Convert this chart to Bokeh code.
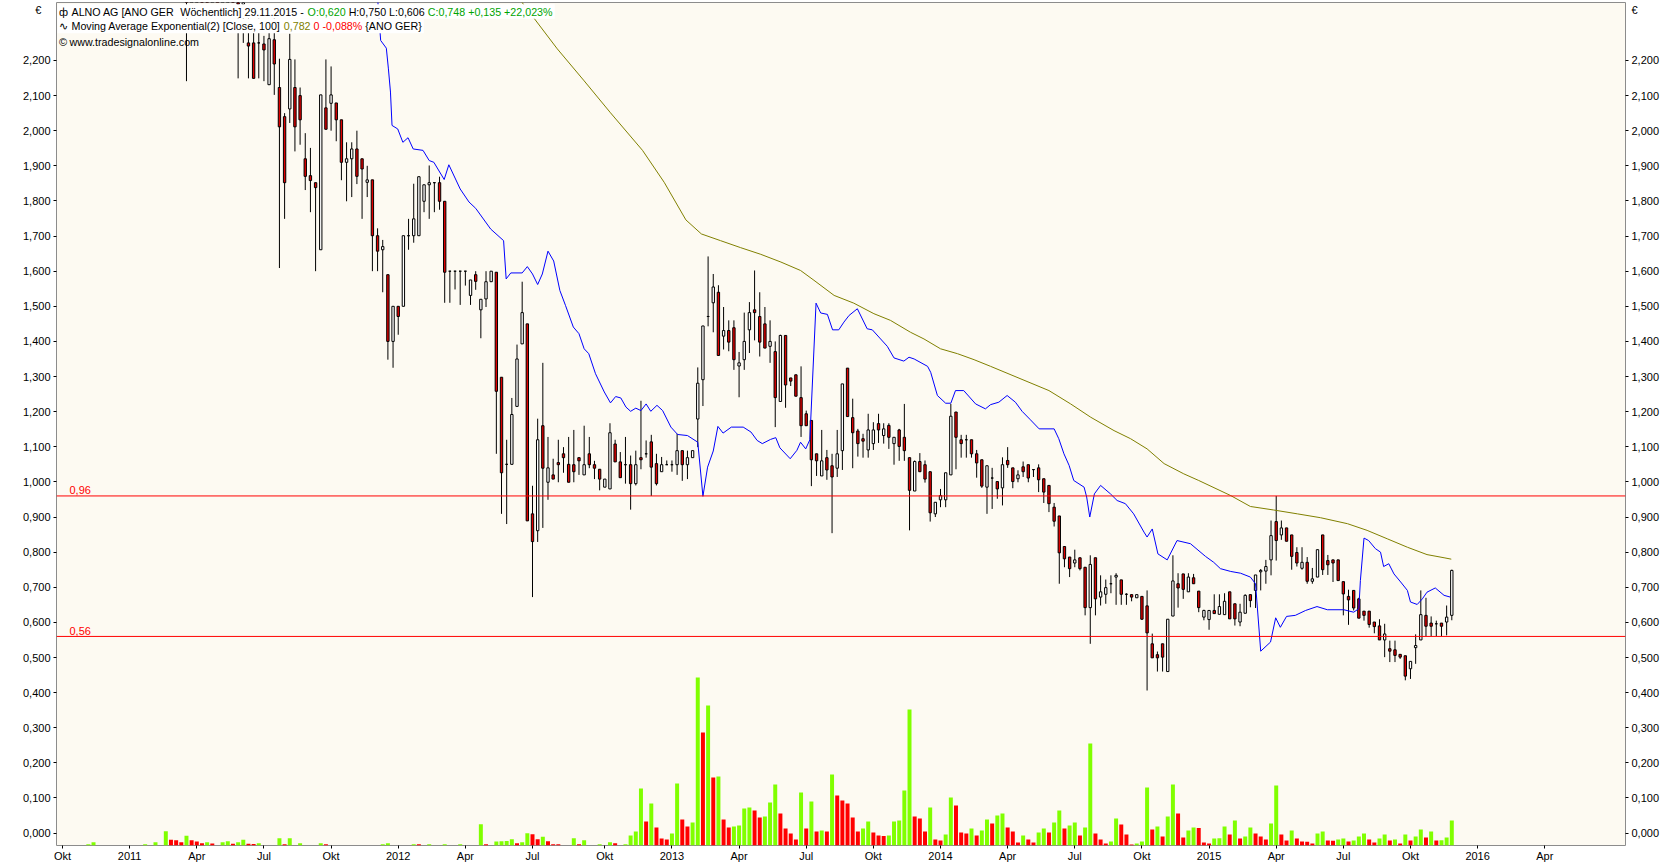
from datetime import date, timedelta
from bokeh.plotting import figure
from bokeh.models import (Range1d, LinearAxis, FixedTicker, CustomJSTickFormatter,
                          Span, Label, BoxAnnotation, ColumnDataSource)
from bokeh.embed import file_html
from bokeh.resources import INLINE

# ---------------------------------------------------------------- data
LAST_BAR = date(2015, 11, 29)      # date of the last weekly bar
LAST_WEEK = 236                    # week number of the last bar
FIRST_CANDLE_WEEK = -9
FIRST_VOLUME_WEEK = -28

OPEN = [
    2.40, 2.38, 2.42, 2.45, 2.43, 2.40, 2.42, 2.39, 2.43, 2.44,
    2.40, 2.36, 2.250, 2.250, 2.250, 2.247, 2.131, 2.259, 2.123, 2.040,
    2.062, 2.123, 2.100, 1.920, 1.872, 1.852, 1.661, 2.065, 2.078, 2.079,
    2.031, 1.910, 1.920, 1.948, 1.920, 1.853, 1.860, 1.701, 1.661, 1.590,
    1.400, 1.500, 1.500, 1.701, 1.701, 1.701, 1.799, 1.846, 1.852, 1.852,
    1.799, 1.600, 1.600, 1.600, 1.600, 1.531, 1.590, 1.490, 1.521, 1.570,
    1.597, 1.298, 1.050, 1.050, 1.215, 1.393, 1.450, 0.909, 0.861, 1.160,
    0.999, 1.020, 1.055, 1.080, 1.050, 1.049, 1.069, 1.020, 1.080, 1.049,
    1.036, 0.985, 0.980, 1.108, 1.057, 1.049, 1.049, 0.995, 1.069, 1.080,
    1.114, 1.052, 1.029, 1.049, 1.049, 1.049, 1.089, 1.049, 1.069, 1.179,
    1.291, 1.471, 1.510, 1.540, 1.415, 1.431, 1.439, 1.330, 1.348, 1.433,
    1.490, 1.471, 1.450, 1.386, 1.371, 1.229, 1.417, 1.296, 1.305, 1.240,
    1.194, 1.175, 1.080, 1.017, 1.069, 1.046, 1.039, 1.089, 1.324, 1.183,
    1.145, 1.123, 1.091, 1.109, 1.166, 1.132, 1.161, 1.109, 1.148, 1.127,
    1.069, 0.974, 1.058, 1.049, 1.029, 0.909, 0.949, 0.949, 1.020, 1.199,
    1.120, 1.120, 1.120, 1.080, 1.063, 0.985, 1.011, 1.001, 0.983, 1.061,
    1.040, 1.009, 1.043, 1.049, 1.035, 1.040, 1.009, 0.990, 0.928, 0.903,
    0.816, 0.786, 0.769, 0.784, 0.757, 0.642, 0.784, 0.672, 0.680, 0.710,
    0.729, 0.721, 0.680, 0.679, 0.670, 0.674, 0.647, 0.539, 0.508, 0.539,
    0.460, 0.618, 0.710, 0.738, 0.687, 0.727, 0.689, 0.615, 0.608, 0.634,
    0.623, 0.622, 0.687, 0.653, 0.601, 0.626, 0.679, 0.691, 0.744, 0.746,
    0.778, 0.887, 0.849, 0.869, 0.849, 0.799, 0.754, 0.771, 0.717, 0.729,
    0.849, 0.776, 0.778, 0.778, 0.716, 0.674, 0.691, 0.667, 0.632, 0.632,
    0.601, 0.590, 0.550, 0.525, 0.522, 0.509, 0.505, 0.468, 0.528, 0.550,
    0.620, 0.598, 0.596, 0.598, 0.601, 0.620,
]
HIGH = [
    2.44, 2.45, 2.48, 2.50, 2.47, 2.44, 2.46, 2.45, 2.48, 2.47,
    2.42, 2.40, 2.33, 2.30, 2.32, 2.27, 2.28, 2.33, 2.205, 2.05,
    2.276, 2.203, 2.123, 1.993, 1.951, 1.852, 2.102, 2.203, 2.183, 2.079,
    2.031, 1.967, 1.967, 2.000, 1.920, 1.900, 1.860, 1.722, 1.689, 1.590,
    1.500, 1.500, 1.701, 1.749, 1.849, 1.869, 1.846, 1.901, 1.852, 1.869,
    1.799, 1.600, 1.600, 1.600, 1.600, 1.575, 1.600, 1.520, 1.600, 1.600,
    1.597, 1.298, 1.120, 1.239, 1.391, 1.570, 1.450, 0.989, 1.180, 1.339,
    1.128, 1.066, 1.120, 1.099, 1.128, 1.148, 1.069, 1.160, 1.128, 1.060,
    1.036, 1.008, 1.167, 1.120, 1.085, 1.128, 1.075, 1.089, 1.231, 1.118,
    1.134, 1.080, 1.071, 1.061, 1.061, 1.137, 1.089, 1.089, 1.089, 1.326,
    1.444, 1.642, 1.592, 1.560, 1.498, 1.460, 1.460, 1.370, 1.482, 1.512,
    1.602, 1.540, 1.498, 1.460, 1.400, 1.419, 1.417, 1.296, 1.305, 1.329,
    1.203, 1.175, 1.080, 1.148, 1.091, 1.080, 1.148, 1.279, 1.324, 1.237,
    1.151, 1.137, 1.194, 1.170, 1.194, 1.167, 1.167, 1.127, 1.151, 1.222,
    1.069, 1.061, 1.082, 1.061, 1.029, 0.942, 0.980, 1.026, 1.222, 1.199,
    1.134, 1.134, 1.120, 1.091, 1.063, 1.046, 1.040, 1.001, 1.070, 1.099,
    1.040, 1.033, 1.058, 1.049, 1.035, 1.050, 1.009, 0.990, 0.940, 0.903,
    0.816, 0.786, 0.807, 0.784, 0.757, 0.791, 0.784, 0.734, 0.722, 0.734,
    0.740, 0.721, 0.683, 0.679, 0.679, 0.674, 0.691, 0.568, 0.517, 0.539,
    0.609, 0.791, 0.740, 0.738, 0.740, 0.738, 0.689, 0.636, 0.634, 0.680,
    0.680, 0.683, 0.687, 0.653, 0.653, 0.680, 0.679, 0.735, 0.752, 0.778,
    0.890, 0.960, 0.890, 0.869, 0.849, 0.814, 0.814, 0.786, 0.755, 0.807,
    0.849, 0.792, 0.778, 0.778, 0.716, 0.693, 0.691, 0.670, 0.632, 0.632,
    0.601, 0.609, 0.596, 0.548, 0.548, 0.509, 0.505, 0.489, 0.566, 0.691,
    0.670, 0.617, 0.605, 0.598, 0.648, 0.750,
]
LOW = [
    2.141, 2.37, 2.38, 2.40, 2.38, 2.37, 2.38, 2.37, 2.40, 2.38,
    2.149, 2.250, 2.149, 2.149, 2.149, 2.141, 2.131, 2.102, 1.609, 1.749,
    2.022, 1.941, 1.960, 1.831, 1.768, 1.600, 1.661, 2.004, 2.000, 1.970,
    1.859, 1.799, 1.811, 1.848, 1.749, 1.811, 1.600, 1.600, 1.540, 1.348,
    1.325, 1.419, 1.500, 1.661, 1.681, 1.701, 1.768, 1.749, 1.768, 1.775,
    1.510, 1.510, 1.548, 1.504, 1.559, 1.504, 1.547, 1.409, 1.498, 1.570,
    1.080, 0.909, 0.880, 1.050, 1.215, 1.393, 0.889, 0.672, 0.829, 0.869,
    0.949, 1.008, 0.999, 1.026, 0.999, 0.999, 1.020, 1.020, 1.039, 1.008,
    0.976, 0.985, 0.980, 1.057, 1.012, 0.995, 0.921, 0.990, 1.036, 1.069,
    0.960, 0.990, 1.029, 1.049, 1.029, 1.020, 1.003, 1.008, 1.069, 1.099,
    1.216, 1.443, 1.426, 1.360, 1.377, 1.372, 1.319, 1.241, 1.319, 1.367,
    1.403, 1.357, 1.381, 1.339, 1.156, 1.229, 1.211, 1.273, 1.244, 1.128,
    1.160, 0.988, 1.017, 1.017, 1.006, 0.854, 1.014, 1.034, 1.186, 1.039,
    1.072, 1.069, 1.069, 1.091, 1.111, 1.109, 1.094, 1.049, 1.060, 1.060,
    0.862, 0.974, 1.029, 0.998, 0.887, 0.900, 0.928, 0.928, 1.020, 1.036,
    1.069, 1.069, 1.069, 1.012, 0.983, 0.909, 0.923, 0.952, 0.933, 1.040,
    0.982, 0.999, 1.014, 0.999, 1.014, 0.971, 0.940, 0.914, 0.873, 0.710,
    0.757, 0.729, 0.757, 0.748, 0.620, 0.539, 0.620, 0.648, 0.653, 0.683,
    0.650, 0.650, 0.650, 0.660, 0.670, 0.607, 0.406, 0.499, 0.460, 0.460,
    0.460, 0.618, 0.642, 0.667, 0.687, 0.710, 0.629, 0.606, 0.579, 0.625,
    0.623, 0.622, 0.610, 0.591, 0.589, 0.626, 0.643, 0.641, 0.691, 0.710,
    0.734, 0.776, 0.835, 0.831, 0.750, 0.759, 0.750, 0.710, 0.710, 0.729,
    0.735, 0.735, 0.715, 0.719, 0.620, 0.593, 0.634, 0.612, 0.605, 0.585,
    0.569, 0.550, 0.501, 0.487, 0.487, 0.496, 0.435, 0.439, 0.482, 0.550,
    0.561, 0.561, 0.561, 0.561, 0.563, 0.606,
]
CLOSE = [
    2.38, 2.42, 2.45, 2.43, 2.40, 2.42, 2.39, 2.43, 2.44, 2.40,
    2.36, 2.37, 2.241, 2.149, 2.250, 2.230, 2.262, 2.190, 2.011, 1.852,
    2.203, 2.011, 2.031, 1.870, 1.858, 1.838, 2.102, 2.004, 2.102, 2.031,
    1.910, 1.920, 1.948, 1.870, 1.891, 1.860, 1.701, 1.657, 1.670, 1.400,
    1.500, 1.471, 1.701, 1.701, 1.749, 1.869, 1.846, 1.852, 1.852, 1.799,
    1.597, 1.600, 1.600, 1.600, 1.600, 1.575, 1.571, 1.520, 1.570, 1.600,
    1.258, 1.026, 1.050, 1.192, 1.350, 1.482, 0.889, 0.830, 1.120, 1.039,
    1.040, 1.008, 1.049, 1.069, 0.999, 1.029, 1.060, 1.049, 1.049, 1.039,
    1.008, 1.008, 1.140, 1.057, 1.012, 1.049, 0.995, 1.049, 1.063, 1.080,
    1.042, 0.995, 1.049, 1.049, 1.049, 1.089, 1.049, 1.069, 1.089, 1.281,
    1.444, 1.471, 1.555, 1.360, 1.431, 1.398, 1.348, 1.339, 1.400, 1.482,
    1.482, 1.398, 1.381, 1.400, 1.240, 1.417, 1.276, 1.287, 1.244, 1.160,
    1.160, 1.063, 1.060, 1.060, 1.034, 1.014, 1.080, 1.279, 1.186, 1.140,
    1.109, 1.116, 1.148, 1.148, 1.148, 1.151, 1.127, 1.127, 1.101, 1.089,
    0.976, 1.058, 1.029, 1.008, 0.912, 0.942, 0.961, 1.026, 1.187, 1.127,
    1.109, 1.120, 1.080, 1.054, 0.988, 1.046, 1.011, 0.980, 1.049, 1.049,
    1.001, 1.020, 1.029, 1.011, 1.035, 1.006, 0.971, 0.938, 0.888, 0.798,
    0.781, 0.753, 0.778, 0.753, 0.642, 0.765, 0.667, 0.687, 0.699, 0.710,
    0.734, 0.680, 0.680, 0.672, 0.679, 0.609, 0.570, 0.499, 0.499, 0.501,
    0.609, 0.718, 0.698, 0.694, 0.729, 0.710, 0.642, 0.634, 0.634, 0.625,
    0.645, 0.660, 0.610, 0.610, 0.629, 0.677, 0.662, 0.735, 0.748, 0.759,
    0.847, 0.833, 0.869, 0.831, 0.788, 0.769, 0.771, 0.717, 0.724, 0.807,
    0.750, 0.764, 0.769, 0.719, 0.681, 0.664, 0.641, 0.612, 0.620, 0.594,
    0.588, 0.550, 0.567, 0.518, 0.506, 0.501, 0.447, 0.489, 0.534, 0.622,
    0.589, 0.589, 0.596, 0.589, 0.615, 0.748,
]
# weekly volume (thousand shares)
VOLUME = [
    1.3, 3.3, 0, 0, 0, 0, 0, 0, 0, 0,
    0, 1.3, 0, 3.3, 0, 14.3, 5.7, 5.3, 3.3, 9.7,
    5.3, 4, 2.3, 3.3, 2, 0, 3.3, 4.3, 1.7, 3.3,
    5.7, 1.7, 1.6, 2.3, 0, 0, 0, 7.3, 1.3, 7.3,
    0, 2.3, 0, 0, 0, 2.3, 1.3, 0, 0, 0,
    0, 0, 0, 0, 0, 0, 0, 1.3, 2.3, 0,
    0, 0, 0, 1.3, 1.2, 0, 1.3, 0, 0, 1.3,
    0, 0, 1.3, 0, 0, 0, 21.3, 1.3, 0, 4.0,
    4.3, 4.6, 6.3, 2.3, 3.3, 12.3, 11.3, 6.3, 8.7, 4.3,
    1.3, 1.2, 0, 0, 7.3, 1.3, 5.3, 0, 0, 1.3,
    0, 3.3, 2.3, 0, 1.3, 10, 14, 57, 24, 42,
    18, 7, 6, 12, 62, 26, 19, 23, 168, 113,
    140, 68, 69, 26, 18, 19, 20, 37, 38, 35,
    28, 29, 43, 61, 32, 17, 12, 6, 53, 17,
    44, 14, 15, 14, 71, 50, 45, 42, 28, 14,
    17, 24, 13, 10, 9.5, 10, 24, 25, 55, 136,
    29, 27, 14, 38, 6, 5, 11, 48, 40, 13,
    12, 17, 10, 15, 26, 22, 30, 32, 18, 14,
    3, 10, 6, 3, 13, 17, 13, 23, 35, 17,
    20, 23, 10, 18, 102, 12, 6, 2, 4, 27,
    21, 11, 1, 2, 4, 58, 16, 19, 9, 29,
    61, 32, 8, 15, 18, 17.5, 3, 2, 7, 7.3,
    19, 11, 25, 7, 9, 18, 12, 9, 6, 22,
    60, 11, 5, 15, 7, 4, 3.8, 2, 12, 14,
    5, 4.8, 6, 7, 4, 5, 9, 12, 6, 3,
    7, 11, 5, 6, 2, 11, 5, 9, 16, 8,
    14, 5, 5.3, 8, 25,
]
# blue indicator line (week number, value)
SIGNAL_WEEK = [
    27.9, 28.6, 29.7, 30.1, 30.5, 30.8, 31.9, 32.9, 33.9, 34.9,
    36.8, 38.0, 38.9, 40.9, 41.8, 44.0, 45.7, 47.0, 49.9, 52.4,
    52.9, 53.8, 56.0, 57.0, 58.0, 59.0, 59.9, 61.0, 62.1, 63.3,
    64.4, 65.9, 67.0, 68.0, 68.9, 70.2, 71.9, 73.1, 74.1, 75.1,
    76.1, 77.0, 78.0, 79.0, 80.0, 80.9, 82.1, 83.2, 84.8, 86.1,
    88.0, 90.0, 91.0, 91.9, 93.0, 93.9, 94.9, 96.5, 98.8, 100.3,
    101.5, 102.5, 104.1, 105.1, 105.9, 107.9, 109.2, 109.9, 110.9, 111.7,
    112.9, 113.8, 115.1, 116.1, 117.3, 118.3, 119.3, 120.9, 122.8, 123.8,
    125.4, 126.7, 128.0, 129.9, 130.9, 131.9, 134.5, 135.1, 136.4, 138.0,
    139.0, 139.9, 141.5, 143.8, 145.7, 146.7, 148.3, 149.9, 151.5, 152.8,
    154.4, 156.1, 159.0, 159.9, 160.9, 161.9, 162.8, 164.8, 165.3, 165.9,
    166.8, 168.0, 169.9, 171.2, 172.8, 174.4, 176.4, 177.0, 178.0, 179.1,
    180.9, 182.8, 185.4, 188.3, 189.9, 191.2, 193.2, 195.1, 197.0, 198.0,
    199.0, 200.9, 201.9, 202.8, 204.0, 205.7, 207.7, 209.9, 211.9, 215.1,
    217.0, 218.0, 218.3, 219.0, 219.9, 221.2, 222.2, 222.8, 223.8, 224.8,
    226.1, 227.4, 228.0, 229.3, 230.3, 231.2, 232.8, 234.5, 235.7,
]
SIGNAL_VALUE = [
    2.40, 2.257, 2.235, 2.176, 2.110, 2.015, 2.005, 1.967, 1.980, 1.948,
    1.944, 1.915, 1.910, 1.861, 1.903, 1.834, 1.797, 1.779, 1.72, 1.687,
    1.578, 1.595, 1.595, 1.613, 1.592, 1.562, 1.592, 1.657, 1.629, 1.545,
    1.502, 1.441, 1.422, 1.379, 1.365, 1.308, 1.256, 1.225, 1.243, 1.239,
    1.213, 1.201, 1.210, 1.203, 1.222, 1.201, 1.218, 1.203, 1.156, 1.135,
    1.132, 1.113, 0.959, 1.042, 1.088, 1.158, 1.139, 1.156, 1.156, 1.142,
    1.118, 1.109, 1.121, 1.126, 1.097, 1.066, 1.090, 1.113, 1.094, 1.120,
    1.509, 1.481, 1.477, 1.433, 1.433, 1.455, 1.474, 1.493, 1.436, 1.433,
    1.407, 1.386, 1.353, 1.344, 1.355, 1.350, 1.329, 1.312, 1.246, 1.224,
    1.224, 1.260, 1.260, 1.222, 1.208, 1.220, 1.227, 1.246, 1.227, 1.201,
    1.177, 1.151, 1.151, 1.123, 1.080, 1.047, 1.004, 0.985, 0.957, 0.900,
    0.966, 0.990, 0.966, 0.947, 0.938, 0.909, 0.857, 0.843, 0.866, 0.795,
    0.778, 0.833, 0.824, 0.788, 0.771, 0.753, 0.745, 0.740, 0.729, 0.710,
    0.518, 0.544, 0.613, 0.586, 0.617, 0.620, 0.634, 0.645, 0.636, 0.636,
    0.629, 0.639, 0.719, 0.840, 0.833, 0.810, 0.800, 0.759, 0.767, 0.738,
    0.715, 0.691, 0.658, 0.651, 0.667, 0.686, 0.698, 0.677, 0.672,
]
# olive line: Moving Average Exponential(2) [Close, 100]
EMA_WEEK = [
    54.7, 56.5, 62.8, 68.0, 73.1, 79.3, 83.5, 87.7, 90.7, 94.4,
    98.3, 102.2, 106.1, 109.9, 112.5, 116.4, 120.2, 124.1, 127.3, 131.2,
    133.8, 137.0, 140.3, 143.5, 146.7, 158.0, 162.2, 166.1, 170.6, 173.8,
    177.0, 180.3, 184.1, 187.0, 193.2, 197.0, 201.5, 206.1, 210.6, 215.8,
    219.6, 223.5, 227.4, 231.2, 234.5, 235.9,
]
EMA_VALUE = [
    2.39, 2.355, 2.233, 2.142, 2.051, 1.944, 1.853, 1.746, 1.706, 1.687,
    1.667, 1.648, 1.626, 1.602, 1.574, 1.531, 1.509, 1.479, 1.460, 1.426,
    1.407, 1.379, 1.365, 1.348, 1.329, 1.260, 1.222, 1.184, 1.146, 1.123,
    1.094, 1.052, 1.023, 1.004, 0.961, 0.930, 0.920, 0.909, 0.898, 0.881,
    0.862, 0.838, 0.814, 0.793, 0.784, 0.780,
]
LEVELS = [0.96, 0.56]
LEVEL_LABELS = ["0,96", "0,56"]
Y_TICKS = [round(0.1 * i, 1) for i in range(23)]
CURRENCY = "€"
TICK_MONTHS = [(2010, 10), (2011, 1), (2011, 4), (2011, 7), (2011, 10), (2012, 1),
               (2012, 4), (2012, 7), (2012, 10), (2013, 1), (2013, 4), (2013, 7),
               (2013, 10), (2014, 1), (2014, 4), (2014, 7), (2014, 10), (2015, 1),
               (2015, 4), (2015, 7), (2015, 10), (2016, 1), (2016, 4)]
TICK_LABELS = ["Okt", "2011", "Apr", "Jul", "Okt", "2012", "Apr", "Jul", "Okt", "2013",
               "Apr", "Jul", "Okt", "2014", "Apr", "Jul", "Okt", "2015", "Apr", "Jul",
               "Okt", "2016", "Apr"]
HEADER_1 = [("ALNO AG [ANO GER", "k"), ("  Wöchentlich] 29.11.2015 - ", "k"),
            ("O:0,620", "g"), (" H:0,750 L:0,606 ", "k"), ("C:0,748 +0,135 +22,023%", "g")]
HEADER_2 = [("Moving Average Exponential(2) [Close, 100] ", "k"), ("0,782", "o"),
            (" 0 -0,088%", "r"), (" {ANO GER}", "k")]
HEADER_3 = [("www.tradesignalonline.com", "k")]

# ---------------------------------------------------------------- layout
FRAME_W, FRAME_H = 1569, 843
BORDER_L, BORDER_R, BORDER_T = 56, 45, 2
PAGE_X0, PAGE_Y0 = BORDER_L, BORDER_T
PX_PER_DAY = 0.7378
PX_PER_EUR = 351.2
X_START = (PAGE_X0 - 1451.3) / PX_PER_DAY
X_END = X_START + FRAME_W / PX_PER_DAY
Y_TOP = (832.6 - PAGE_Y0) / PX_PER_EUR
Y_BOTTOM = Y_TOP - FRAME_H / PX_PER_EUR
FONT = "Liberation Sans"
HFS = 10.7
COLORS = {"k": "#000000", "g": "#00A400", "o": "#808000", "r": "#FF0000"}


def week_day(w):
    return -7.0 * (LAST_WEEK - w)


def xd(px):
    return X_START + (px - PAGE_X0) / PX_PER_DAY


def yd(py):
    return Y_TOP - (py - PAGE_Y0) / PX_PER_EUR


ARIAL = {' ': 278, '%': 889, '(': 333, ')': 333, '+': 584, ',': 278, '-': 333, '.': 278,
         ':': 278, '[': 278, ']': 278, '{': 334, '}': 334, 'A': 667, 'C': 722, 'E': 667,
         'G': 778, 'H': 722, 'L': 556, 'M': 833, 'N': 722, 'O': 778, 'R': 722, 'W': 944,
         'a': 556, 'c': 500, 'd': 556, 'e': 556, 'g': 556, 'h': 556, 'i': 222, 'l': 222,
         'm': 833, 'n': 556, 'o': 556, 'p': 556, 'r': 333, 's': 500, 't': 278, 'u': 556,
         'v': 500, 'w': 722, 'x': 500, 'ö': 556}


def text_px(s, size):
    return sum(ARIAL.get(ch, 556) for ch in s) * size / 1000.0


# ---------------------------------------------------------------- figure
p = figure(frame_width=FRAME_W, frame_height=FRAME_H,
           x_range=Range1d(X_START, X_END), y_range=Range1d(Y_BOTTOM, Y_TOP),
           output_backend="svg", toolbar_location=None, tools="",
           min_border_left=BORDER_L, min_border_right=BORDER_R,
           min_border_top=BORDER_T, min_border_bottom=0,
           background_fill_color="#FDFAF2", border_fill_color="#FFFFFF",
           outline_line_color="#8C8C8C", outline_line_width=1)
p.xgrid.visible = False
p.ygrid.visible = False
p.extra_y_ranges = {"vol": Range1d(0, FRAME_H)}

# price scale: major ticks carry the labels (plus the currency mark at the top),
# the short tick dashes are drawn as minor ticks so the currency mark has none
CUR_POS = round(yd(10), 4)


def price_formatter(pad):
    return CustomJSTickFormatter(
        args=dict(cur_pos=CUR_POS, cur=CURRENCY + "\u00a0" * pad),
        code="return Math.abs(tick - cur_pos) < 1e-6 ? cur : "
             "tick.toFixed(3).replace('.', ',');")


def style_axis(ax):
    ax.axis_line_color = None
    ax.major_tick_line_color = "#000000"
    ax.major_tick_out = 3
    ax.major_tick_in = 0
    ax.minor_tick_out = 0
    ax.minor_tick_in = 0
    ax.major_label_text_font = FONT
    ax.major_label_text_font_size = "11px"
    ax.major_label_text_color = "#000000"
    ax.major_label_standoff = 3


def style_price_axis(ax, pad):
    style_axis(ax)
    ax.ticker = FixedTicker(ticks=Y_TICKS + [CUR_POS], minor_ticks=Y_TICKS)
    ax.formatter = price_formatter(pad)
    ax.major_tick_line_color = None
    ax.minor_tick_line_color = "#000000"
    ax.minor_tick_out = 3
    ax.minor_tick_in = 0


for ax in p.yaxis:
    style_price_axis(ax, 3)
right_axis = LinearAxis()
style_price_axis(right_axis, 0)
p.add_layout(right_axis, "right")

tick_days = []
for (yy, mm) in TICK_MONTHS:
    d = date(yy, mm, 1)
    d = d + timedelta(days=(6 - d.weekday()) % 7)
    tick_days.append((d - LAST_BAR).days)
xax = p.xaxis[0]
xax.ticker = FixedTicker(ticks=tick_days)
xax.formatter = CustomJSTickFormatter(
    args=dict(tick_pos=tick_days, tick_txt=TICK_LABELS),
    code="const i = tick_pos.indexOf(tick); return i >= 0 ? tick_txt[i] : '';")
style_axis(xax)
xax.major_label_text_align = "left"
xax.major_label_standoff = 1

# ---------------------------------------------------------------- volume
vweeks = list(range(FIRST_VOLUME_WEEK, FIRST_VOLUME_WEEK + len(VOLUME)))
vcol = []
prev = 0
for v in VOLUME:
    vcol.append("#80FF00" if v > prev else "#FF0000")
    prev = v
vsrc = ColumnDataSource(dict(x=[week_day(w) for w in vweeks], top=VOLUME, color=vcol))
p.vbar(x="x", top="top", bottom=0, width=5.4, source=vsrc, fill_color="color",
       line_color=None, y_range_name="vol")

# ---------------------------------------------------------------- candles
cweeks = list(range(FIRST_CANDLE_WEEK, FIRST_CANDLE_WEEK + len(OPEN)))
csrc = ColumnDataSource(dict(
    x=[week_day(w) for w in cweeks],
    high=HIGH, low=LOW,
    top=[max(o, c) for o, c in zip(OPEN, CLOSE)],
    bottom=[min(o, c) for o, c in zip(OPEN, CLOSE)],
    fill=["#E00000" if c < o else "#FFFFFF" for o, c in zip(OPEN, CLOSE)],
))
p.segment(x0="x", y0="low", x1="x", y1="high", source=csrc, line_color="#000000",
          line_width=1)
p.vbar(x="x", top="top", bottom="bottom", width=3.2, source=csrc, fill_color="fill",
       line_color="#000000", line_width=1)

# ---------------------------------------------------------------- indicator lines
p.line([week_day(w) for w in SIGNAL_WEEK], SIGNAL_VALUE, line_color="#0000FF", line_width=1)
p.line([week_day(w) for w in EMA_WEEK], EMA_VALUE, line_color="#808000", line_width=1)

for lev, lab in zip(LEVELS, LEVEL_LABELS):
    p.add_layout(Span(location=lev, dimension="width", line_color="#FF0000", line_width=1))
    p.add_layout(Label(x=xd(69), y=lev + 1.5 / PX_PER_EUR, text=lab, text_color="#FF0000",
                       text_font=FONT, text_font_size="11px", text_baseline="bottom",
                       text_align="left"))

# ---------------------------------------------------------------- header
def header_line(segments, x0, ycen, box=False):
    total = sum(text_px(t, HFS) for t, _ in segments)
    if box:
        p.add_layout(BoxAnnotation(left=xd(57), right=xd(x0 + total + 2),
                                   top=yd(ycen - 7.2), bottom=yd(ycen + 7.2),
                                   fill_color="#FFFFFF", fill_alpha=1.0, line_color=None))
    x = x0
    for txt, c in segments:
        lead = len(txt) - len(txt.lstrip(" "))
        core = txt.strip(" ")
        p.add_layout(Label(x=xd(x + text_px(" " * lead, HFS)), y=yd(ycen), text=core,
                           text_color=COLORS[c], text_font=FONT,
                           text_font_size=f"{HFS}px", text_baseline="middle",
                           text_align="left"))
        x += text_px(txt, HFS)


header_line(HEADER_1, 71, 11.0, box=True)
header_line(HEADER_2, 71, 25.6, box=True)
header_line(HEADER_3, 69, 41.5)
for sym, yy in (("ф", 11.0), ("∿", 25.6), ("©", 41.5)):
    p.add_layout(Label(x=xd(58.5), y=yd(yy), text=sym, text_color="#000000",
                       text_font=FONT, text_font_size="11px", text_baseline="middle",
                       text_align="left"))

open("out.html", "w", encoding="utf-8").write(file_html(p, INLINE, title="ALNO AG"))
